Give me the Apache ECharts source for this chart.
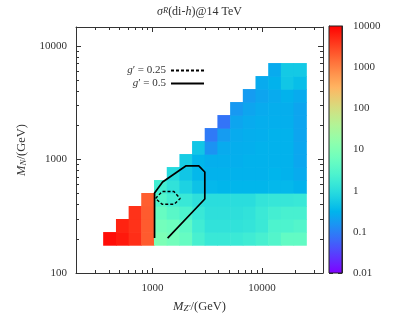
<!DOCTYPE html>
<html><head><meta charset="utf-8">
<script src="https://cdn.jsdelivr.net/npm/echarts@6/dist/echarts.min.js"></script>
<style>html,body{margin:0;padding:0;background:#fff}#c{width:399px;height:315px}</style>
</head><body><div id="c"></div>
<script>
// M_Z' cell centres (GeV), M_N cell centres (GeV)
const mZ = [405, 530, 690, 900, 1180, 1540, 2010, 2620, 3420, 4470, 5840, 7620, 9950, 13000, 16950, 22140];
const mN = [201, 262, 341, 444, 578, 752, 979, 1274, 1659, 2159, 2811, 3659, 4763, 6200];
// sigma values, one list per M_Z' column, rows from lowest M_N upward
const sigma = [
  [8000],
  [6500, 5500],
  [4500, 4200, 4200],
  [2000, 2000, 2000, 1900],
  [9, 7, 5, 3, 2],
  [7, 6, 3.5, 2, 1.2, 0.9],
  [5, 4, 2.5, 1.5, 0.7, 0.5, 0.6],
  [2.2, 1.8, 1.5, 1.1, 0.45, 0.35, 0.33, 0.5],
  [1.5, 1.2, 1.1, 1.0, 0.35, 0.3, 0.28, 0.15, 0.09],
  [1.5, 1.2, 1.1, 1.0, 0.33, 0.3, 0.28, 0.25, 0.18, 0.08],
  [1.6, 1.2, 1.1, 1.0, 0.33, 0.3, 0.28, 0.27, 0.25, 0.22, 0.17],
  [1.8, 1.3, 1.2, 1.0, 0.33, 0.3, 0.3, 0.28, 0.27, 0.25, 0.22, 0.18],
  [2.2, 1.6, 1.6, 1.3, 0.33, 0.3, 0.3, 0.3, 0.28, 0.27, 0.25, 0.22, 0.25],
  [3, 2.5, 2, 1.4, 0.35, 0.32, 0.3, 0.3, 0.3, 0.28, 0.27, 0.25, 0.3, 0.25],
  [4.5, 2.5, 2.2, 1.4, 0.35, 0.3, 0.3, 0.3, 0.3, 0.28, 0.27, 0.3, 0.5, 0.55],
  [4.5, 3, 2.2, 1.5, 0.3, 0.25, 0.23, 0.23, 0.22, 0.22, 0.22, 0.25, 0.4, 0.55]
];
// contours [M_Z', M_N]
const contour025 = [[1065,453],[1222,522],[1567,522],[1787,453],[1574,403],[1222,403],[1065,453]];
const contour05 = [[1043,203],[1043,507],[1235,634],[2010,877],[2643,877],[3000,776],[3000,449],[1373,203]];
// tick labels
const xMajor = [1000, 10000];
const yMajor = [100, 1000, 10000];
const cbMajor = [0.01, 0.1, 1, 10, 100, 1000, 10000];
const legendNames = ['g025', 'g05'];
const legendLabels = {g025: '{i|g}′ = 0.25', g05: '{i|g}′ = 0.5'};

function minorTicks(lo, hi) {
  const out = [];
  for (let d = lo; d < hi; d *= 10) for (let k = 2; k <= 9; k++) out.push(+(d * k).toPrecision(6));
  return out;
}
function edges(c) {
  const n = c.length, e = [c[0] / Math.sqrt(c[1] / c[0])];
  for (let i = 1; i < n; i++) e.push(Math.sqrt(c[i - 1] * c[i]));
  e.push(c[n - 1] * Math.sqrt(c[n - 1] / c[n - 2]));
  return e;
}
function pal(x) {
  const cl = v => Math.round(255 * Math.max(0, Math.min(1, v)));
  return 'rgb(' + cl(Math.abs(2 * x - 0.5)) + ',' + cl(Math.sin(Math.PI * x)) + ',' + cl(Math.cos(Math.PI / 2 * x)) + ')';
}
const palStops = [];
for (let k = 0; k <= 60; k++) palStops.push(pal(k / 60));

const xe = edges(mZ), ye = edges(mN);
const cells = [];
sigma.forEach((col, i) => col.forEach((v, j) => {
  cells.push([mZ[i], mN[j], Math.log10(v), xe[i], xe[i + 1], ye[j], ye[j + 1]]);
}));

const FONT = 'Liberation Serif';
const TC = '#333';
const rich = {
  i: {fontStyle: 'italic', fontFamily: FONT, fontSize: 11, color: TC},
  sub: {fontStyle: 'italic', fontFamily: FONT, fontSize: 8, color: TC, verticalAlign: 'bottom', lineHeight: 8},
  sup: {fontStyle: 'italic', fontFamily: FONT, fontSize: 8, color: TC, verticalAlign: 'top', lineHeight: 8}
};
const richBig = {
  i: {fontStyle: 'italic', fontFamily: FONT, fontSize: 12.5, color: TC},
  sub: {fontStyle: 'italic', fontFamily: FONT, fontSize: 9, color: TC, verticalAlign: 'bottom', lineHeight: 9},
  sup: {fontStyle: 'italic', fontFamily: FONT, fontSize: 9, color: TC, verticalAlign: 'top', lineHeight: 9}
};
const fmt = v => String(+(+v).toPrecision(6));

const XMIN = 200, XMAX = 36000, YMIN = 100, YMAX = 14700;
function logAxis(opts) {
  return Object.assign({
    type: 'log', logBase: 10, min: opts.min, max: opts.max,
    gridIndex: opts.grid || 0, position: opts.position,
    axisLine: {show: opts.line !== false, onZero: false, lineStyle: {color: '#333', width: 1}},
    axisTick: {show: true, inside: true, length: opts.len, customValues: opts.ticks, lineStyle: {color: '#333', width: 1}},
    axisLabel: opts.labels ? {show: true, customValues: opts.labels, formatter: fmt, fontFamily: FONT, fontSize: 11, color: TC, margin: opts.margin || 8} : {show: false},
    splitLine: {show: false}, minorTick: {show: false}
  }, opts.extra || {});
}

const chart = echarts.init(document.getElementById('c'), null, {renderer: 'canvas'});
chart.setOption({
  animation: false,
  backgroundColor: '#fff',
  title: {
    text: '{i|σ}{sup|R}(di-{i|h})@14 TeV', left: 'center', top: 1,
    textStyle: {fontFamily: FONT, fontSize: 12, fontWeight: 'normal', color: TC, rich: {
      i: {fontStyle: 'italic', fontFamily: FONT, fontSize: 12, color: TC},
      sup: {fontStyle: 'italic', fontFamily: FONT, fontSize: 8.5, color: TC, verticalAlign: 'top', lineHeight: 8}
    }}
  },
  grid: [
    {left: 76, top: 27, width: 247, height: 246, outerBoundsMode: 'none', containLabel: false},
    {left: 329, top: 26, width: 13, height: 247, outerBoundsMode: 'none', containLabel: false}
  ],
  xAxis: [
    logAxis({min: XMIN, max: XMAX, position: 'bottom', len: 5, ticks: xMajor, labels: xMajor, margin: 10,
      extra: {name: '{i|M}{sub|Z′}/(GeV)', nameLocation: 'middle', nameGap: 27,
        nameTextStyle: {fontFamily: FONT, fontSize: 12.5, color: TC, rich: richBig}}}),
    logAxis({min: XMIN, max: XMAX, position: 'bottom', len: 3, ticks: minorTicks(100, 100000), line: false}),
    logAxis({min: XMIN, max: XMAX, position: 'top', len: 5, ticks: xMajor}),
    logAxis({min: XMIN, max: XMAX, position: 'top', len: 3, ticks: minorTicks(100, 100000), line: false}),
    {type: 'value', gridIndex: 1, min: 0, max: 1, show: false}
  ],
  yAxis: [
    logAxis({min: YMIN, max: YMAX, position: 'left', len: 5, ticks: yMajor, labels: yMajor, margin: 9,
      extra: {name: '{i|M}{sub|N}/(GeV)', nameLocation: 'middle', nameGap: 47, nameRotate: 90,
        nameTextStyle: {fontFamily: FONT, fontSize: 12.5, color: TC, rich: richBig}}}),
    logAxis({min: YMIN, max: YMAX, position: 'left', len: 3, ticks: minorTicks(100, 100000), line: false}),
    logAxis({min: YMIN, max: YMAX, position: 'right', len: 5, ticks: yMajor}),
    logAxis({min: YMIN, max: YMAX, position: 'right', len: 3, ticks: minorTicks(100, 100000), line: false}),
    logAxis({grid: 1, min: 0.01, max: 10000, position: 'right', len: 4, ticks: cbMajor, labels: cbMajor, margin: 11}),
    logAxis({grid: 1, min: 0.01, max: 10000, position: 'right', len: 2, ticks: minorTicks(0.01, 10000), line: false}),
    logAxis({grid: 1, min: 0.01, max: 10000, position: 'left', len: 4, ticks: cbMajor}),
    logAxis({grid: 1, min: 0.01, max: 10000, position: 'left', len: 2, ticks: minorTicks(0.01, 10000), line: false})
  ],
  visualMap: {
    show: false, type: 'continuous', min: -2, max: 4, dimension: 2, seriesIndex: 0,
    inRange: {color: palStops}
  },
  legend: {
    data: legendNames, orient: 'vertical', align: 'right', right: 194, top: 65, padding: 0,
    itemWidth: 33, itemHeight: 10, itemGap: 2, selectedMode: false,
    itemStyle: {opacity: 0},
    formatter: n => legendLabels[n],
    textStyle: {fontFamily: FONT, fontSize: 11, color: TC, rich: rich}
  },
  series: [
    {
      type: 'custom', xAxisIndex: 0, yAxisIndex: 0, data: cells,
      encode: {x: 0, y: 1}, z: 1,
      renderItem: (params, api) => {
        const p0 = api.coord([api.value(3), api.value(6)]);
        const p1 = api.coord([api.value(4), api.value(5)]);
        return {type: 'rect', shape: {x: p0[0], y: p0[1], width: p1[0] - p0[0] + 0.6, height: p1[1] - p0[1] + 0.6},
          style: {fill: api.visual('color')}};
      }
    },
    {
      name: 'g025', type: 'line', xAxisIndex: 0, yAxisIndex: 0, data: contour025, symbol: 'none', z: 5,
      lineStyle: {color: '#000', width: 1.4, type: [3, 2]}, itemStyle: {color: '#000'}
    },
    {
      name: 'g05', type: 'line', xAxisIndex: 0, yAxisIndex: 0, data: contour05, symbol: 'none', z: 5,
      lineStyle: {color: '#000', width: 1.7, type: 'solid'}, itemStyle: {color: '#000'}
    },
    {
      type: 'custom', xAxisIndex: 4, yAxisIndex: 4, data: [[0, 0.01, 1, 10000]], encode: {x: 0, y: 1}, z: 1,
      renderItem: (params, api) => {
        const p0 = api.coord([0, 10000]);
        const p1 = api.coord([1, 0.01]);
        const stops = palStops.map((c, k) => ({offset: 1 - k / (palStops.length - 1), color: c}));
        return {type: 'rect', shape: {x: p0[0], y: p0[1], width: p1[0] - p0[0], height: p1[1] - p0[1]},
          style: {fill: new echarts.graphic.LinearGradient(0, 0, 0, 1, stops), stroke: '#222', lineWidth: 1}};
      }
    }
  ]
});
</script>
</body></html>
